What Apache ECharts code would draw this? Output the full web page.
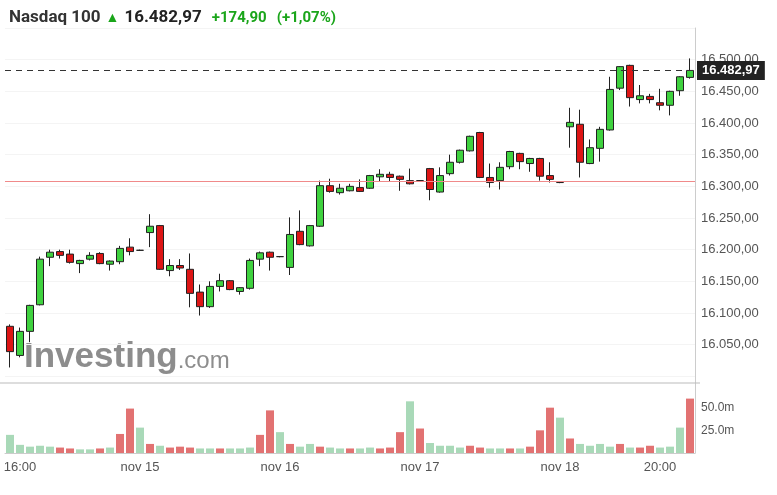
<!DOCTYPE html>
<html lang="es">
<head>
    <meta charset="UTF-8">
    <title>Nasdaq 100</title>
    <style>
        html, body { margin: 0; padding: 0; background: #fff; }
        .chart { width: 777px; height: 495px; }
    </style>
    <script src="https://cdn.jsdelivr.net/npm/echarts@6/dist/echarts.min.js"></script>
</head>
<body>
    <div class="chart"></div>
    <script>
        // velas: [open, close, low, high]
        var opens  = [16079,16033,16071,16113,16188,16197,16193,16178,16185,16194,16177,16181,16204,16199,16227,16238,16167,16175,16169,16133,16110,16142,16151,16134,16139,16185,16196,16189,16172,16229,16206,16237,16301,16290,16293,16298,16297,16315,16319,16316,16309,16309,16328,16291,16320,16338,16356,16385,16314,16309,16331,16352,16336,16344,16317,16306,16394,16398,16336,16360,16389,16455,16491,16437,16442,16432,16428,16451,16472];
        var closes = [16039,16071,16112,16185,16196,16191,16180,16183,16191,16178,16182,16202,16197,16199,16237,16169,16175,16171,16131,16110,16142,16151,16137,16140,16183,16195,16188,16189,16224,16208,16238,16301,16292,16297,16300,16292,16317,16319,16314,16311,16304,16309,16295,16317,16338,16357,16379,16314,16306,16330,16355,16339,16344,16316,16311,16306,16401,16338,16361,16390,16453,16489,16440,16443,16437,16428,16450,16473,16482.97];
        var lows   = [16014,16030,16054,16112,16174,16186,16178,16163,16183,16177,16167,16177,16191,16198,16204,16168,16158,16168,16109,16096,16108,16134,16136,16129,16137,16174,16167,16188,16160,16207,16205,16236,16290,16287,16292,16291,16296,16308,16308,16293,16303,16308,16278,16290,16317,16336,16355,16313,16298,16295,16327,16327,16323,16309,16306,16305,16361,16314,16335,16339,16388,16452,16426,16431,16431,16420,16412,16443,16470];
        var highs  = [16082,16077,16113,16189,16200,16200,16200,16184,16196,16196,16183,16206,16218,16200,16256,16239,16185,16185,16194,16145,16150,16162,16152,16141,16186,16197,16197,16190,16251,16262,16239,16309,16312,16304,16304,16311,16318,16327,16323,16317,16328,16310,16329,16330,16350,16358,16380,16386,16336,16338,16356,16353,16345,16345,16338,16307,16424,16421,16374,16394,16473,16490,16492,16460,16446,16454,16451,16474,16502];

        // volumen (millones) y dirección del color (1 = sube)
        var volumes = [20,9,7,8,7,6,5,4,4,5,6,21,49,28,10,8,6,7,6,5,5,5,5,5,6,20,47,23,10,7,10,7,6,5,5,5,6,5,6,23,57,27,11,8,8,6,8,6,5,5,5,5,7,25,50,39,16,10,8,10,7,10,6,6,8,6,7,28,60];
        var volUp   = [1,1,1,1,1,0,0,1,1,0,1,0,0,1,0,1,0,0,0,1,1,0,1,1,1,0,0,1,0,1,1,0,1,1,0,1,1,0,0,0,1,0,1,1,1,1,0,0,1,1,0,1,0,0,0,1,0,1,1,1,1,0,1,0,0,1,1,1,0];

        // etiquetas del eje temporal
        var timeLabels = {1: '16:00', 13: 'nov 15', 27: 'nov 16', 41: 'nov 17', 55: 'nov 18', 65: '20:00'};

        var lastPrice = 16482.97;
        var prevClose = 16308.07;

        var categories = opens.map(function (v, i) { return i; });
        var candleData = opens.map(function (o, i) { return [o, closes[i], lows[i], highs[i]]; });
        var volData = volumes.map(function (v, i) {
            return { value: v, itemStyle: { color: volUp[i] ? '#a9d9b8' : '#e27272' } };
        });

        function fmtPrice(v) {
            var parts = v.toFixed(2).split('.');
            return parts[0].replace(/\B(?=(\d{3})+(?!\d))/g, '.') + ',' + parts[1];
        }

        var option = {
            animation: false,
            title: {
                left: 4,
                top: 4,
                text: '{n|Nasdaq 100} {a|▲} {p|16.482,97}  {c|+174,90}  {c|(+1,07%)}',
                textStyle: {
                    rich: {
                        n: { fontSize: 17, color: '#333', fontFamily: 'Roboto' },
                        a: { fontSize: 14, color: '#1aa51a' },
                        p: { fontSize: 17, color: '#222', fontWeight: 'bold', fontFamily: 'Roboto' },
                        c: { fontSize: 15, color: '#1aa51a', fontWeight: 'bold', fontFamily: 'Roboto' }
                    }
                }
            },
            graphic: [
                {
                    type: 'text', left: 24, top: 340, z: 0,
                    style: {
                        text: '{b|Investing}{s|.com}',
                        rich: {
                            b: { fontSize: 35, fontWeight: 'bold', fill: '#8d8d8d', fontFamily: 'Liberation Sans Narrow, Liberation Sans' },
                            s: { fontSize: 24, fill: '#8d8d8d', fontFamily: 'Liberation Sans', padding: [8, 0, 0, 0] }
                        }
                    }
                },
                {
                    type: 'line', z: 5,
                    shape: { x1: 0, y1: 383, x2: 700, y2: 383 },
                    style: { stroke: '#bbb', lineWidth: 1 }
                }
            ],
            grid: [
                { left: 5, right: 82, top: 28, height: 380 },
                { left: 5, right: 82, top: 385, height: 68 }
            ],
            xAxis: [
                {
                    type: 'category', gridIndex: 0, data: categories,
                    axisLine: { show: false }, axisTick: { show: false }, axisLabel: { show: false }
                },
                {
                    type: 'category', gridIndex: 1, data: categories,
                    axisLine: { lineStyle: { color: '#ccc' } },
                    axisTick: { show: false },
                    axisLabel: {
                        interval: 0, color: '#555', fontSize: 13, margin: 8,
                        formatter: function (v, i) { return timeLabels[i] || ''; }
                    }
                }
            ],
            yAxis: [
                {
                    type: 'value', gridIndex: 0, position: 'right',
                    min: 15950, max: 16550, interval: 50,
                    axisLine: { show: true, lineStyle: { color: '#ccc' } },
                    axisTick: { show: false },
                    splitLine: { show: true, showMinLine: false, lineStyle: { color: '#f4f4f4' } },
                    axisLabel: {
                        color: '#555', fontSize: 13, margin: 6,
                        formatter: function (v) { return (v < 16050 || v > 16500) ? '' : fmtPrice(v); }
                    }
                },
                {
                    type: 'value', gridIndex: 1, position: 'right',
                    min: 0, max: 75, interval: 25,
                    axisLine: { show: true, lineStyle: { color: '#ccc' } },
                    axisTick: { show: false },
                    splitLine: { show: false },
                    axisLabel: {
                        color: '#555', fontSize: 12, margin: 6,
                        formatter: function (v) { return (v === 25 || v === 50) ? v.toFixed(1) + 'm' : ''; }
                    }
                }
            ],
            series: [
                {
                    type: 'candlestick', xAxisIndex: 0, yAxisIndex: 0,
                    data: candleData, barWidth: 7, z: 3,
                    itemStyle: {
                        color: '#3fd23f', color0: '#dd1515',
                        borderColor: '#222', borderColor0: '#222', borderWidth: 1
                    },
                    markLine: {
                        symbol: 'none', silent: true,
                        data: [
                            {
                                yAxis: lastPrice,
                                lineStyle: { color: '#333', type: [6, 5], width: 1 },
                                label: {
                                    position: 'end', distance: 2,
                                    formatter: fmtPrice(lastPrice),
                                    backgroundColor: '#222', color: '#fff',
                                    fontSize: 13, fontWeight: 'bold', padding: [3, 5]
                                }
                            },
                            {
                                yAxis: prevClose,
                                lineStyle: { color: '#f08a8a', type: 'solid', width: 1, opacity: 1 },
                                label: { show: false }
                            }
                        ]
                    }
                },
                {
                    type: 'bar', xAxisIndex: 1, yAxisIndex: 1,
                    data: volData, barWidth: 8
                }
            ]
        };

        var chart = echarts.init(document.querySelector('.chart'));
        chart.setOption(option);
    </script>
</body>
</html>
